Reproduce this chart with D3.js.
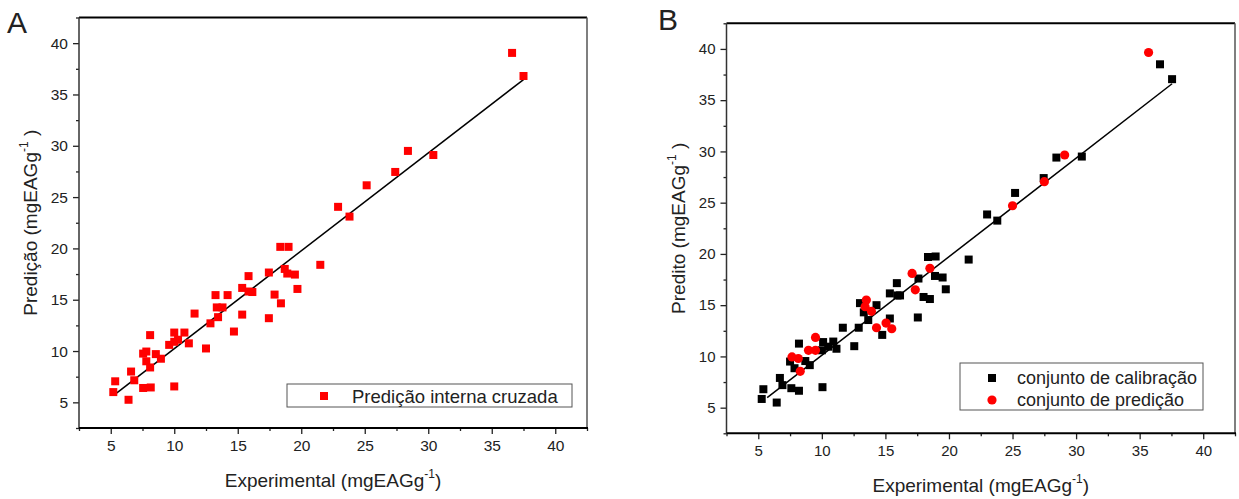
<!DOCTYPE html>
<html>
<head>
<meta charset="utf-8">
<script src="https://cdn.jsdelivr.net/npm/d3@7"></script>
<style>
  body { margin: 0; background: #fff; }
  text { font-family: "Liberation Sans", Arial, sans-serif; fill: #222; }
</style>
</head>
<body>
<svg id="chart" width="1239" height="499"></svg>
<script>
// panel A: cross validation, all samples
var crossVal = [
  [5.2, 6.0], [5.35, 7.05], [6.4, 5.25], [6.6, 8.0], [6.85, 7.15], [7.55, 6.4], [8.15, 6.45],
  [7.55, 9.75], [7.8, 9.95], [7.8, 9.0], [8.1, 8.4], [8.1, 11.55], [8.55, 9.7], [8.95, 9.25],
  [10.0, 6.55], [9.6, 10.6], [10.0, 11.8], [10.0, 10.9], [10.3, 11.1], [10.8, 11.8], [11.15, 10.75],
  [11.6, 13.65], [12.5, 10.25], [12.85, 12.7], [13.25, 15.45], [13.35, 14.25], [13.45, 13.3], [13.8, 14.25],
  [14.2, 15.45], [14.7, 11.9], [15.35, 16.15], [15.35, 13.55], [15.85, 17.3], [15.85, 15.8], [16.15, 15.75],
  [17.45, 17.65], [17.45, 13.2], [17.9, 15.5], [18.4, 14.65], [18.35, 20.15], [19.0, 20.15], [18.7, 18.0],
  [18.9, 17.55], [19.5, 17.45], [19.7, 16.05], [21.5, 18.4],
  [22.9, 24.05], [23.8, 23.1], [25.15, 26.15], [27.4, 27.45], [28.4, 29.5], [30.4, 29.1],
  [36.6, 39.05], [37.5, 36.8]
];
var fitA = [[5.25, 5.7], [37.5, 36.45]];

// panel B: calibration set and prediction set
var calibration = [
  [5.27, 5.85], [5.4, 6.8], [6.45, 5.5], [6.7, 7.9], [6.9, 7.2], [7.6, 6.9], [8.2, 6.65],
  [7.5, 9.5], [7.85, 8.85], [8.2, 11.25], [8.7, 9.55], [9.05, 9.15], [10.05, 7.0], [10.1, 11.4],
  [10.0, 10.6], [10.5, 10.95], [10.9, 11.45], [11.15, 10.75], [11.65, 12.8], [12.55, 11.0],
  [12.9, 12.8], [13.0, 15.2], [13.3, 14.3], [13.65, 13.55], [14.3, 15.0], [14.75, 12.1],
  [15.35, 16.15], [15.35, 13.7], [15.9, 17.15], [15.95, 15.95], [16.15, 15.95], [17.55, 13.8],
  [17.6, 17.6], [18.0, 15.8], [18.5, 15.6], [18.35, 19.7], [18.95, 19.75], [18.9, 17.85],
  [19.5, 17.7], [19.75, 16.55], [21.55, 19.45], [23.0, 23.85], [23.8, 23.25], [25.2, 25.95],
  [27.45, 27.4], [28.45, 29.4], [30.45, 29.5], [36.6, 38.5], [37.55, 37.05]
];
var prediction = [
  [7.65, 9.95], [8.15, 9.8], [8.3, 8.55], [8.95, 10.6], [9.5, 11.85], [9.5, 10.6],
  [13.5, 15.5], [13.4, 14.85], [13.9, 14.4], [14.3, 12.8], [15.05, 13.25], [15.5, 12.7],
  [17.1, 18.1], [17.35, 16.5], [18.5, 18.6], [25.0, 24.7], [27.5, 27.05], [29.1, 29.65],
  [35.7, 39.65]
];
var fitB = [[5.7, 5.98], [37.55, 36.6]];

var majorTicks = [5, 10, 15, 20, 25, 30, 35, 40];
var minorTicks = [2.5, 7.5, 12.5, 17.5, 22.5, 27.5, 32.5, 37.5, 42.5];
var domain = [2.5, 42.5];

var svg = d3.select("#chart");

function drawPanel(p) {
  var g = svg.append("g");
  var x = d3.scaleLinear().domain(domain).range([p.left, p.right]);
  var y = d3.scaleLinear().domain(domain).range([p.bottom, p.top]);

  // frame: top and right
  g.append("line").attr("x1", p.left).attr("x2", p.right).attr("y1", p.top).attr("y2", p.top)
    .attr("stroke", "#000").attr("stroke-width", 2);
  g.append("line").attr("x1", p.right).attr("x2", p.right).attr("y1", p.top).attr("y2", p.bottom)
    .attr("stroke", "#555").attr("stroke-width", 1.5);

  // axes
  var xMinor = g.append("g").attr("transform", "translate(0," + p.bottom + ")")
    .call(d3.axisBottom(x).tickValues(minorTicks).tickSize(3).tickFormat(""));
  var xMajor = g.append("g").attr("transform", "translate(0," + p.bottom + ")")
    .call(d3.axisBottom(x).tickValues(majorTicks).tickSize(6).tickPadding(6));
  var yMinor = g.append("g").attr("transform", "translate(" + p.left + ",0)")
    .call(d3.axisLeft(y).tickValues(minorTicks).tickSize(3).tickFormat(""));
  var yMajor = g.append("g").attr("transform", "translate(" + p.left + ",0)")
    .call(d3.axisLeft(y).tickValues(majorTicks).tickSize(6).tickPadding(5));

  [xMinor, xMajor, yMinor, yMajor].forEach(function (a) {
    a.selectAll("path").remove();
    a.selectAll("line").attr("stroke", "#222").attr("stroke-width", 1.3);
    a.selectAll("text").attr("font-size", p.tickFont).attr("fill", "#222")
      .style("font-family", "'Liberation Sans', Arial, sans-serif");
  });

  g.append("line").attr("x1", p.left).attr("x2", p.left).attr("y1", p.top).attr("y2", p.bottom)
    .attr("stroke", "#333").attr("stroke-width", 1.5);
  g.append("line").attr("x1", p.left).attr("x2", p.right + 1).attr("y1", p.bottom).attr("y2", p.bottom)
    .attr("stroke", "#000").attr("stroke-width", 2);

  // fit line
  g.append("line")
    .attr("x1", x(p.fit[0][0])).attr("y1", y(p.fit[0][1]))
    .attr("x2", x(p.fit[1][0])).attr("y2", y(p.fit[1][1]))
    .attr("stroke", "#000").attr("stroke-width", 1.5);

  // squares
  g.append("g").selectAll("rect").data(p.squares).enter().append("rect")
    .attr("x", function (d) { return x(d[0]) - 4; })
    .attr("y", function (d) { return y(d[1]) - 4; })
    .attr("width", 8).attr("height", 8)
    .attr("fill", p.squareColor);

  if (p.circles) {
    g.append("g").selectAll("circle").data(p.circles).enter().append("circle")
      .attr("cx", function (d) { return x(d[0]); })
      .attr("cy", function (d) { return y(d[1]); })
      .attr("r", 4.6)
      .attr("fill", "#ff0000");
  }

  // axis titles
  var xt = g.append("text").attr("x", (p.left + p.right) / 2).attr("y", p.xTitleY)
    .attr("text-anchor", "middle").attr("font-size", 19);
  xt.append("tspan").text("Experimental (mgEAGg");
  xt.append("tspan").attr("font-size", 12).attr("dy", -9).text("-1");
  xt.append("tspan").attr("dy", 9).text(")");

  var yt = g.append("text")
    .attr("transform", "translate(" + p.yTitleX + "," + (p.top + p.bottom) / 2 + ") rotate(-90)")
    .attr("text-anchor", "middle").attr("font-size", 19);
  yt.append("tspan").text(p.yTitle + " (mgEAGg");
  yt.append("tspan").attr("font-size", 12).attr("dy", -9).text("-1");
  yt.append("tspan").attr("dy", 9).text(" )");

  // panel letter
  g.append("text").attr("x", p.letterX).attr("y", p.letterY)
    .attr("font-size", 30).text(p.letter);

  return { x: x, y: y, g: g };
}

var pa = drawPanel({
  left: 79, right: 587, top: 17.5, bottom: 428,
  squares: crossVal, squareColor: "#ff0000", fit: fitA,
  tickFont: 15.5, xTitleY: 487, yTitleX: 37, yTitle: "Predição",
  letter: "A", letterX: 7, letterY: 33
});

var pb = drawPanel({
  left: 726.5, right: 1235, top: 23.3, bottom: 433.3,
  squares: calibration, squareColor: "#000", circles: prediction, fit: fitB,
  tickFont: 15, xTitleY: 492, yTitleX: 685, yTitle: "Predito",
  letter: "B", letterX: 658, letterY: 30
});

// legend A
var la = pa.g.append("g").attr("transform", "translate(287,384)");
la.append("rect").attr("width", 285).attr("height", 23)
  .attr("fill", "#fff").attr("stroke", "#555").attr("stroke-width", 1);
la.append("rect").attr("x", 33).attr("y", 8).attr("width", 8).attr("height", 8).attr("fill", "#ff0000");
la.append("text").attr("x", 65).attr("y", 19).attr("font-size", 18.5).text("Predição interna cruzada");

// legend B
var lb = pb.g.append("g").attr("transform", "translate(960,363)");
lb.append("rect").attr("width", 243).attr("height", 47)
  .attr("fill", "#fff").attr("stroke", "#555").attr("stroke-width", 1);
lb.append("rect").attr("x", 28).attr("y", 11).attr("width", 8).attr("height", 8).attr("fill", "#000");
lb.append("circle").attr("cx", 32).attr("cy", 37).attr("r", 4.6).attr("fill", "#ff0000");
lb.append("text").attr("x", 57).attr("y", 21).attr("font-size", 18).text("conjunto de calibração");
lb.append("text").attr("x", 57).attr("y", 43).attr("font-size", 18).text("conjunto de predição");
</script>
</body>
</html>
